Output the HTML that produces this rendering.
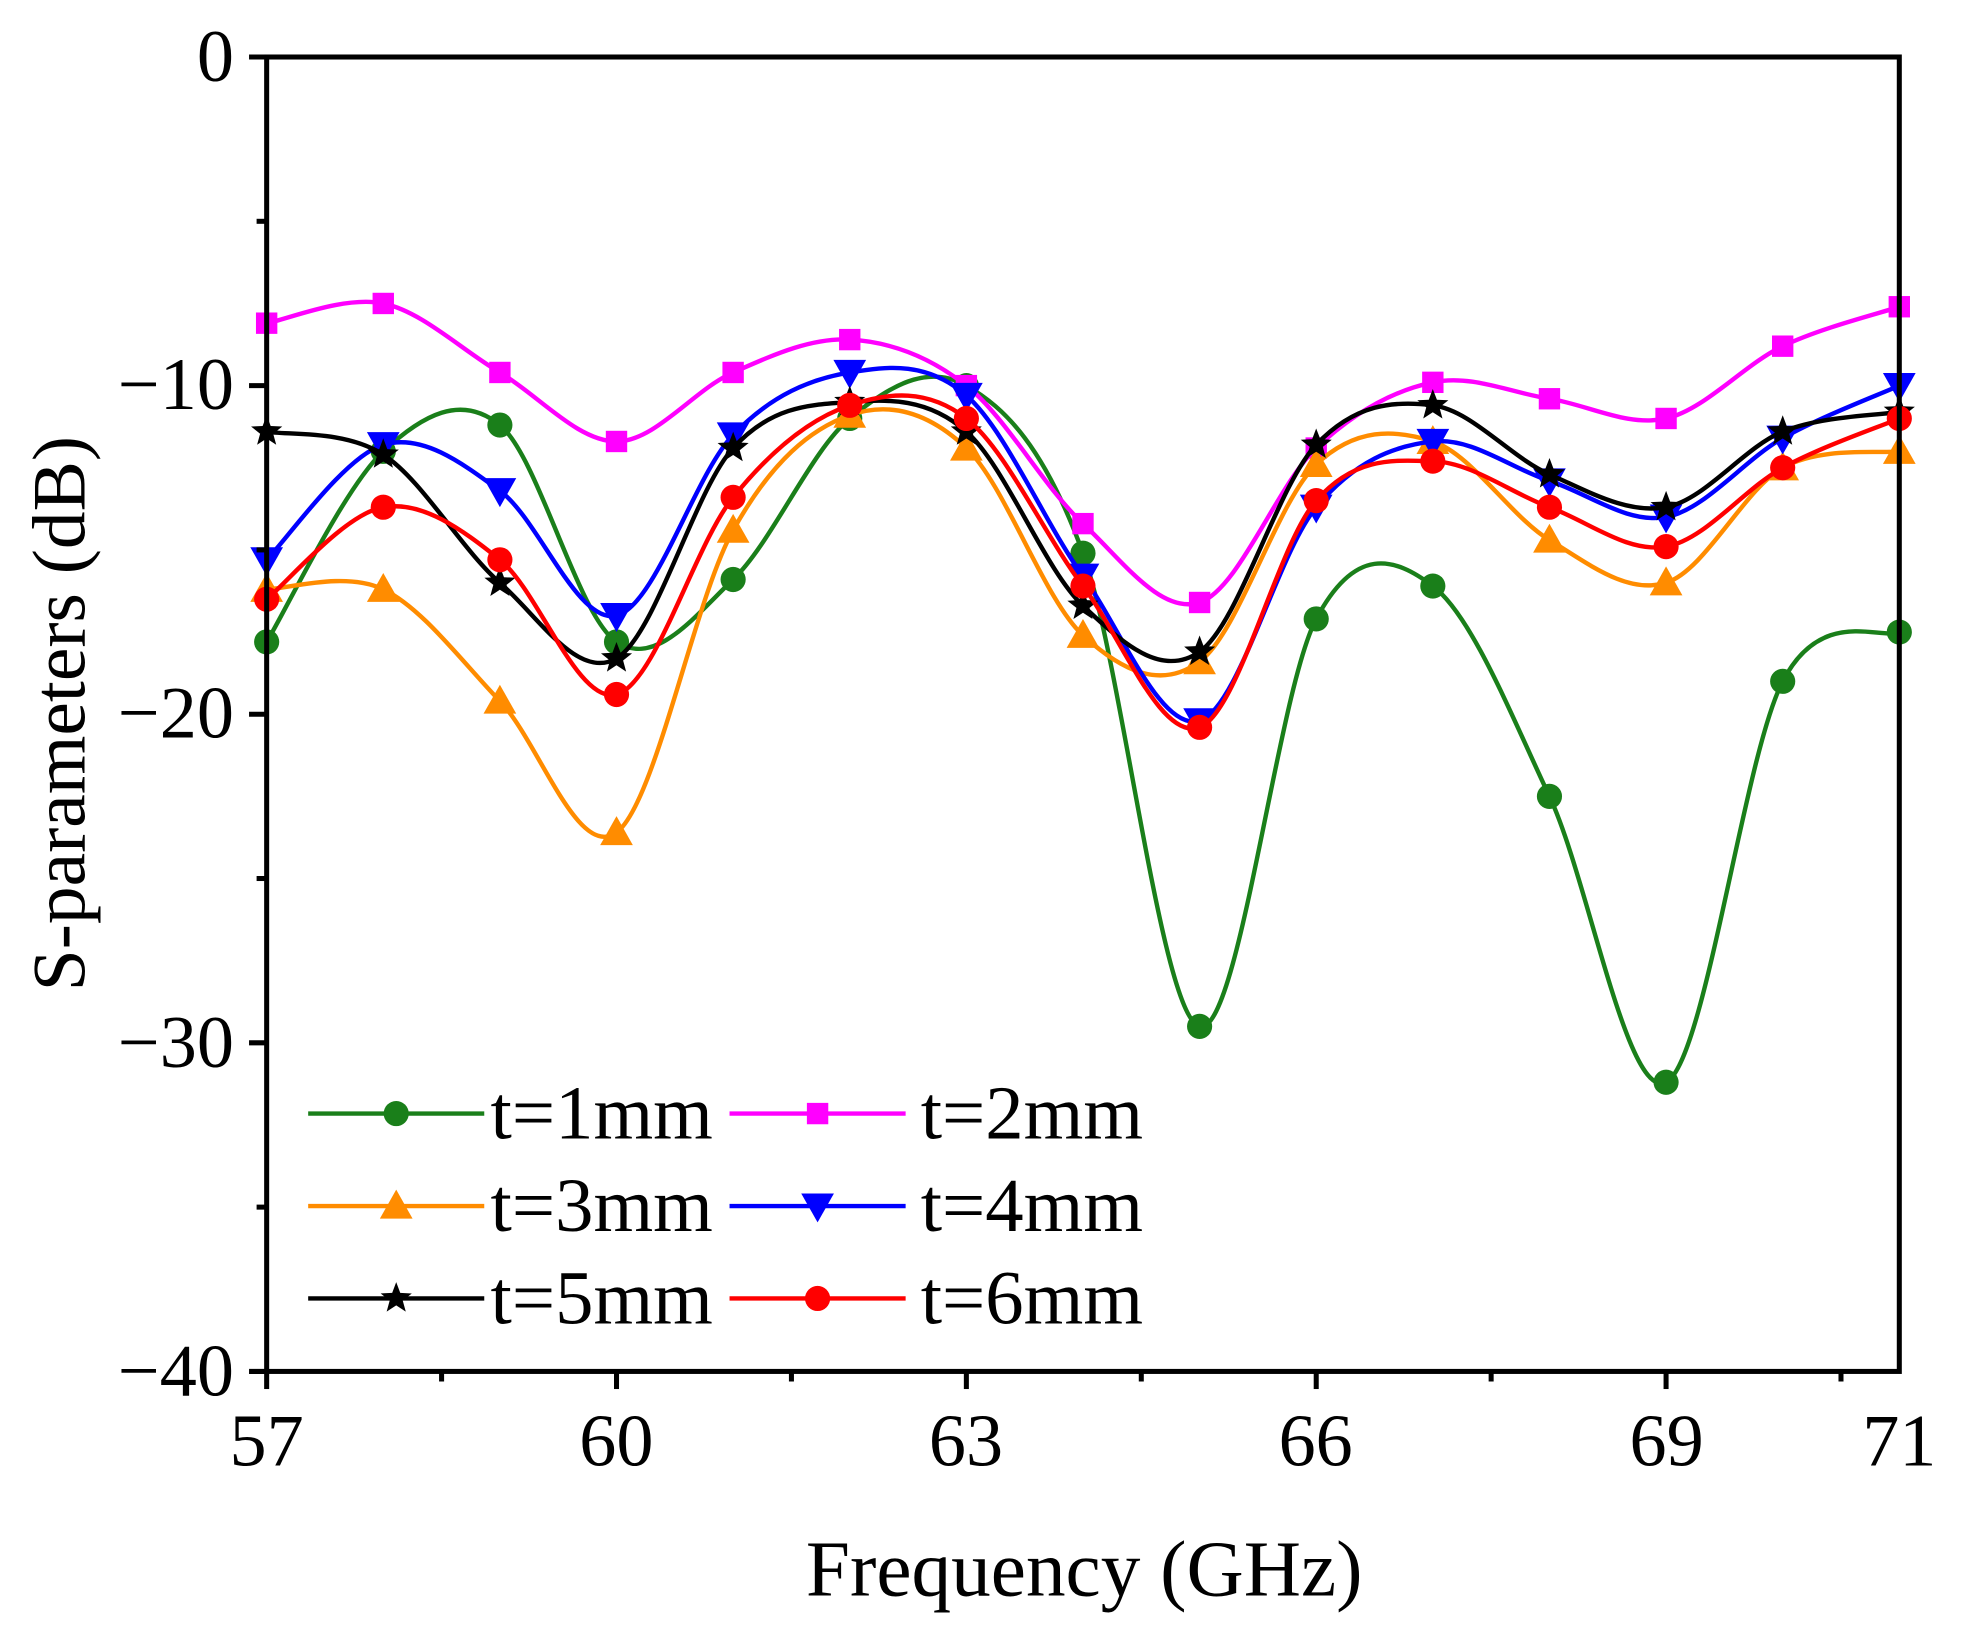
<!DOCTYPE html>
<html><head><meta charset="utf-8"><style>html,body{margin:0;padding:0;background:#fff}svg{display:block}</style></head>
<body>
<svg id="s" width="1971" height="1641" viewBox="0 0 1567 1304" xmlns="http://www.w3.org/2000/svg" font-family="Liberation Serif, serif">
<rect width="1567" height="1304" fill="#fff"/>
<g id="curves"></g>
<g id="axes" stroke="#000" stroke-width="4" fill="none">
<rect x="212" y="45" width="1298" height="1045"/>
</g>
<g font-size="59" text-anchor="end" fill="#000">
<text x="186" y="64">0</text>
<text x="186" y="325">−10</text>
<text x="186" y="586">−20</text>
<text x="186" y="848">−30</text>
<text x="186" y="1109">−40</text>
</g>
<g font-size="59" text-anchor="middle" fill="#000">
<text x="212" y="1165">57</text>
<text x="490" y="1165">60</text>
<text x="768" y="1165">63</text>
<text x="1046" y="1165">66</text>
<text x="1325" y="1165">69</text>
<text x="1510" y="1165">71</text>
</g>
<text x="862" y="1268" font-size="63" text-anchor="middle">Frequency (GHz)</text>
<text transform="translate(67,567) rotate(-90)" font-size="60" text-anchor="middle">S-parameters (dB)</text>
<g id="legend" font-size="61"></g>
</svg>
<script>
const NS="http://www.w3.org/2000/svg";
const X=f=>212+(f-57)*1298/14, Y=v=>45-v*1045/40;
const series=[
["#1a7f1a","hex",[-17.8,-12,-11.2,-17.8,-15.9,-11,-10,-15.1,-29.5,-17.1,-16.1,-22.5,-31.2,-19,-17.5],"t=1mm"],
["#ff00ff","sq",[-8.1,-7.5,-9.6,-11.7,-9.6,-8.6,-10,-14.2,-16.6,-11.9,-9.9,-10.4,-11,-8.8,-7.6],"t=2mm"],
["#ff8c00","tu",[-16.2,-16.2,-19.6,-23.6,-14.4,-10.9,-11.9,-17.6,-18.4,-12.4,-11.7,-14.7,-16,-12.5,-12],"t=3mm"],
["#0000ff","td",[-15.3,-11.8,-13.2,-17,-11.5,-9.6,-10.3,-15.8,-20.2,-13.7,-11.7,-12.9,-14,-11.6,-10],"t=4mm"],
["#000000","star",[-11.4,-12.1,-16,-18.3,-11.9,-10.5,-11.4,-16.7,-18.1,-11.8,-10.6,-12.7,-13.7,-11.4,-10.8],"t=5mm"],
["#ff0000","circ",[-16.5,-13.7,-15.3,-19.4,-13.4,-10.6,-11,-16.1,-20.4,-13.5,-12.3,-13.7,-14.9,-12.5,-11],"t=6mm"]];
function el(t,a,p){const e=document.createElementNS(NS,t);for(const k in a)e.setAttribute(k,a[k]);p.appendChild(e);return e;}
function marker(type,x,y,c,p){
 if(type=="hex"||type=="circ"){el("circle",{cx:x,cy:y,r:10,fill:c},p);}
 else if(type=="sq")el("rect",{x:x-8.5,y:y-8.5,width:17,height:17,fill:c},p);
 else if(type=="tu")el("polygon",{points:`${x},${y-13} ${x-13},${y+10} ${x+13},${y+10}`,fill:c},p);
 else if(type=="td")el("polygon",{points:`${x},${y+13} ${x-13},${y-10} ${x+13},${y-10}`,fill:c},p);
 else{let pts=[];for(let i=0;i<10;i++){const r=i%2?5.5:13,a=-Math.PI/2+i*Math.PI/5;pts.push((x+r*Math.cos(a)).toFixed(1)+","+(y+r*Math.sin(a)).toFixed(1));}el("polygon",{points:pts.join(" "),fill:c},p);}
}
const g=document.getElementById("curves");
series.forEach(([c,m,v])=>{
 const P=v.map((d,i)=>[X(57+i),Y(d)]);
 let d="M"+P[0];
 for(let i=0;i<P.length-1;i++){const p0=P[Math.max(0,i-1)],p1=P[i],p2=P[i+1],p3=P[Math.min(P.length-1,i+2)];
  d+=` C${p1[0]+(p2[0]-p0[0])/6},${p1[1]+(p2[1]-p0[1])/6} ${p2[0]-(p3[0]-p1[0])/6},${p2[1]-(p3[1]-p1[1])/6} ${p2[0]},${p2[1]}`;}
 el("path",{d:d,fill:"none",stroke:c,"stroke-width":3.5},g);
 P.forEach(p=>marker(m,p[0],p[1],c,g));
});
const ax=document.getElementById("axes");
for(let v=0;v>=-40;v-=5){const y=Y(v);el("line",{x1:212,y1:y,x2:v%10==0?198:204,y2:y},ax);}
for(let f=57;f<=71;f+=1.5){const x=X(f);const maj=Math.abs((f-57)%3)<0.01;el("line",{x1:x,y1:1090,x2:x,y2:maj?1104:1098},ax);}
const lg=document.getElementById("legend");
series.forEach(([c,m,v,t],i)=>{const col=i%2,row=Math.floor(i/2);const x0=col?580:245,y=885+row*73.5;
 el("line",{x1:x0,y1:y,x2:x0+140,y2:y,stroke:c,"stroke-width":3.5},lg);marker(m,x0+70,y,c,lg);
 const tx=el("text",{x:x0+(col?152:145),y:y+20,fill:"#000"},lg);tx.textContent=t;});
</script>
</body></html>
